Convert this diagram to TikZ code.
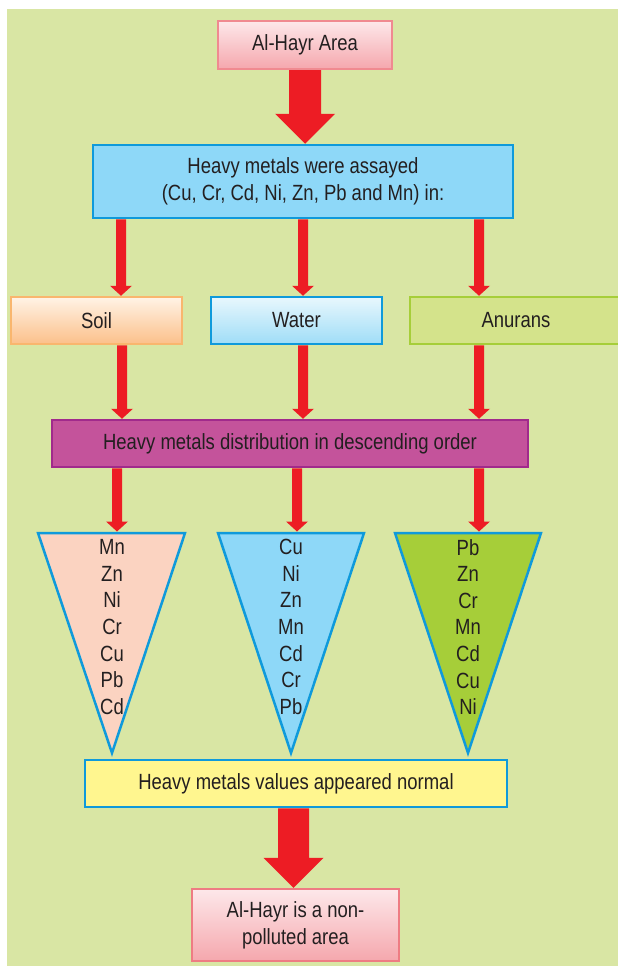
\documentclass[tikz,border=0pt]{standalone}
\usepackage{fontspec}
\setmainfont{Liberation Sans}[FakeStretch=0.84]
\usetikzlibrary{calc}
\definecolor{bggreen}{HTML}{D9E6A4}
\definecolor{arrowred}{HTML}{ED1C24}
\definecolor{txt}{HTML}{231F20}
\definecolor{pinktop}{HTML}{FDE8EA}
\definecolor{pinkbot}{HTML}{F5A7AD}
\definecolor{pinkborder}{HTML}{F08A90}
\definecolor{finalborder}{HTML}{EE7C83}
\definecolor{skyfill}{HTML}{8ED8F8}
\definecolor{blueborder}{HTML}{0F9ADB}
\definecolor{soiltop}{HTML}{FFF3E6}
\definecolor{soilbot}{HTML}{FCC08A}
\definecolor{soilborder}{HTML}{F9B66E}
\definecolor{watertop}{HTML}{E8F7FD}
\definecolor{waterbot}{HTML}{9FDDF7}
\definecolor{anufill}{HTML}{D4E38B}
\definecolor{anuborder}{HTML}{A6CE39}
\definecolor{purplefill}{HTML}{C4539B}
\definecolor{purpleborder}{HTML}{A12A8C}
\definecolor{soiltri}{HTML}{FBD3C1}
\definecolor{anutri}{HTML}{A6CE39}
\definecolor{yellowfill}{HTML}{FFF68F}
% #1 x position, #2 from, #3 to, #4 shaft half width, #5 head half width, #6 head length
\newcommand\fatarrow[6]{%
  \fill[arrowred] let \p1=(#2), \p2=(#3) in
    ({#1pt-#4pt},\y1) -- ({#1pt+#4pt},\y1) -- ({#1pt+#4pt},{\y2+#6pt})
    -- ({#1pt+#5pt},{\y2+#6pt}) -- ({#1pt},\y2) -- ({#1pt-#5pt},{\y2+#6pt})
    -- ({#1pt-#4pt},{\y2+#6pt}) -- cycle;}
\begin{document}
\begin{tikzpicture}[x=1pt,y=-1pt,
  box/.style={draw, line width=2.5pt, outer sep=1.25pt, inner sep=0pt, align=center,
    text=txt, font=\fontsize{22}{26.7}\selectfont},
  tri/.style={draw=blueborder, line width=2.5pt, line join=miter},
  tritext/.style={inner sep=0pt, align=center, text=txt, font=\fontsize{22}{26.6}\selectfont}]
\useasboundingbox (0,0) rectangle (618,966);
\fill[white] (0,0) rectangle (618,966);
\fill[bggreen] (7,9) rectangle (618,966);

% boxes
\node[box, draw=pinkborder, top color=pinktop, bottom color=pinkbot,
  minimum width=174pt, minimum height=48pt] (top) at (305,45) {Al-Hayr Area};
\node[box, draw=blueborder, fill=skyfill, minimum width=420pt, minimum height=73pt]
  (assay) at (303,181.5) {Heavy metals were assayed\\(Cu, Cr, Cd, Ni, Zn, Pb and Mn) in:};
\node[box, draw=soilborder, top color=soiltop, bottom color=soilbot,
  minimum width=171pt, minimum height=47pt] (soil) at (96.5,320.5) {Soil};
\node[box, draw=blueborder, top color=watertop, bottom color=waterbot,
  minimum width=171pt, minimum height=47pt] (water) at (296.5,320.5) {Water};
\node[box, draw=anuborder, fill=anufill,
  minimum width=212pt, minimum height=47pt] (anurans) at (516,320.5) {Anurans};
\node[box, draw=purpleborder, fill=purplefill,
  minimum width=476pt, minimum height=47pt] (distrib) at (290,443.5)
  {Heavy metals distribution in descending order};

% triangles
\draw[tri, fill=soiltri] (38,533) -- (185,533) -- (112,753) -- cycle;
\draw[tri, fill=skyfill] (218,533) -- (364,533) -- (291,753) -- cycle;
\draw[tri, fill=anutri] (395,533) -- (541,533) -- (468,753) -- cycle;
\coordinate (soiltop) at (117,531.5);
\coordinate (watertop) at (297,531.5);
\coordinate (anutop) at (479,531.5);
\node[tritext] (soillist) at (112,627) {Mn\\Zn\\Ni\\Cr\\Cu\\Pb\\Cd};
\node[tritext] (waterlist) at (291,627) {Cu\\Ni\\Zn\\Mn\\Cd\\Cr\\Pb};
\node[tritext] (anulist) at (468,627) {Pb\\Zn\\Cr\\Mn\\Cd\\Cu\\Ni};

\node[box, draw=blueborder, fill=yellowfill,
  minimum width=422pt, minimum height=47pt] (normal) at (296,783.5)
  {Heavy metals values appeared normal};
\node[box, draw=finalborder, top color=pinktop, bottom color=pinkbot,
  minimum width=207pt, minimum height=72pt] (final) at (295.5,925)
  {Al-Hayr is a non-\\polluted area};

% arrows
\fatarrow{305}{top.south}{assay.north}{16}{30}{30}
\fatarrow{121}{assay.south}{soil.north}{5}{11}{10}
\fatarrow{303}{assay.south}{water.north}{5}{11}{10}
\fatarrow{479}{assay.south}{anurans.north}{5}{11}{10}
\fatarrow{122}{soil.south}{distrib.north}{5}{11}{10}
\fatarrow{303}{water.south}{distrib.north}{5}{11}{10}
\fatarrow{479}{anurans.south}{distrib.north}{5}{11}{10}
\fatarrow{117}{distrib.south}{soiltop}{5}{11}{10}
\fatarrow{297}{distrib.south}{watertop}{5}{11}{10}
\fatarrow{479}{distrib.south}{anutop}{5}{11}{10}
\fatarrow{293.5}{normal.south}{final.north}{15.5}{30}{30}
\end{tikzpicture}
\end{document}
